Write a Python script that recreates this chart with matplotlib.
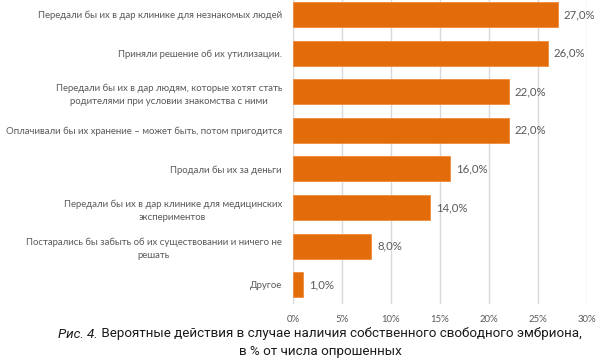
import matplotlib
matplotlib.use("Agg")
import matplotlib.pyplot as plt
from matplotlib.ticker import MultipleLocator, FuncFormatter

categories = [
    "Передали бы их в дар клинике для незнакомых людей",
    "Приняли решение об их утилизации.",
    "Передали бы их в дар людям, которые хотят стать\nродителями при условии знакомства с ними",
    "Оплачивали бы их хранение – может быть, потом пригодится",
    "Продали бы их за деньги",
    "Передали бы их в дар клинике для медицинских\nэкспериментов",
    "Постарались бы забыть об их существовании и ничего не\nрешать",
    "Другое",
]
values = [27.0, 26.0, 22.0, 22.0, 16.0, 14.0, 8.0, 1.0]
caption_italic = "Рис. 4."
caption_rest = " Вероятные действия в случае наличия собственного свободного эмбриона,"
caption_line2 = "в % от числа опрошенных"

plt.rcParams['font.family'] = ['Lato', 'DejaVu Sans']

fig = plt.figure(figsize=(6, 3.6), dpi=100)
ax = fig.add_axes([293/600, 1 - 304/360, (587-293)/600, (304+4.8)/360])

pos = list(range(len(categories)))
ax.barh(pos, values, height=0.65, color="#E36C0A", edgecolor="#F08A3A", linewidth=0.6, zorder=3)
ax.set_ylim(len(categories) - 0.5, -0.5)
ax.set_xlim(0, 30)
ax.xaxis.set_major_locator(MultipleLocator(5))
ax.xaxis.set_major_formatter(FuncFormatter(lambda v, p: f"{int(v)}%"))
ax.grid(axis='x', color="#D9D9D9", linewidth=1, zorder=0)
for s in ax.spines.values():
    s.set_visible(False)
ax.tick_params(axis='both', length=0, colors="#595959", labelsize=6.9)
ax.tick_params(axis='x', pad=8)
ax.tick_params(axis='y', pad=8)
ax.set_yticks(pos)
ax.set_yticklabels(categories, multialignment='center', linespacing=1.55)

for p, v in zip(pos, values):
    ax.text(v + 0.6, p, f"{v:.1f}%".replace(".", ","), va='center', ha='left',
            color="#595959", fontsize=8.2)

# caption
fig.canvas.draw()
r = fig.canvas.get_renderer()
cap_font = ['Roboto', 'DejaVu Sans']
t1 = fig.text(0, 1 - 334/360, caption_italic, fontstyle='italic', family=cap_font,
              fontsize=9.6, color="#1a1a1a", va='center', ha='left')
t2 = fig.text(0, 1 - 334/360, caption_rest, family=cap_font,
              fontsize=9.6, color="#1a1a1a", va='center', ha='left')
w1 = t1.get_window_extent(r).width
w2 = t2.get_window_extent(r).width
start = 320 - (w1 + w2) / 2
t1.set_x(start / 600)
t2.set_x((start + w1) / 600)
fig.text(320/600, 1 - 352/360, caption_line2, family=cap_font,
         fontsize=9.6, color="#1a1a1a", va='center', ha='center')

fig.savefig("out.png", dpi=100)
